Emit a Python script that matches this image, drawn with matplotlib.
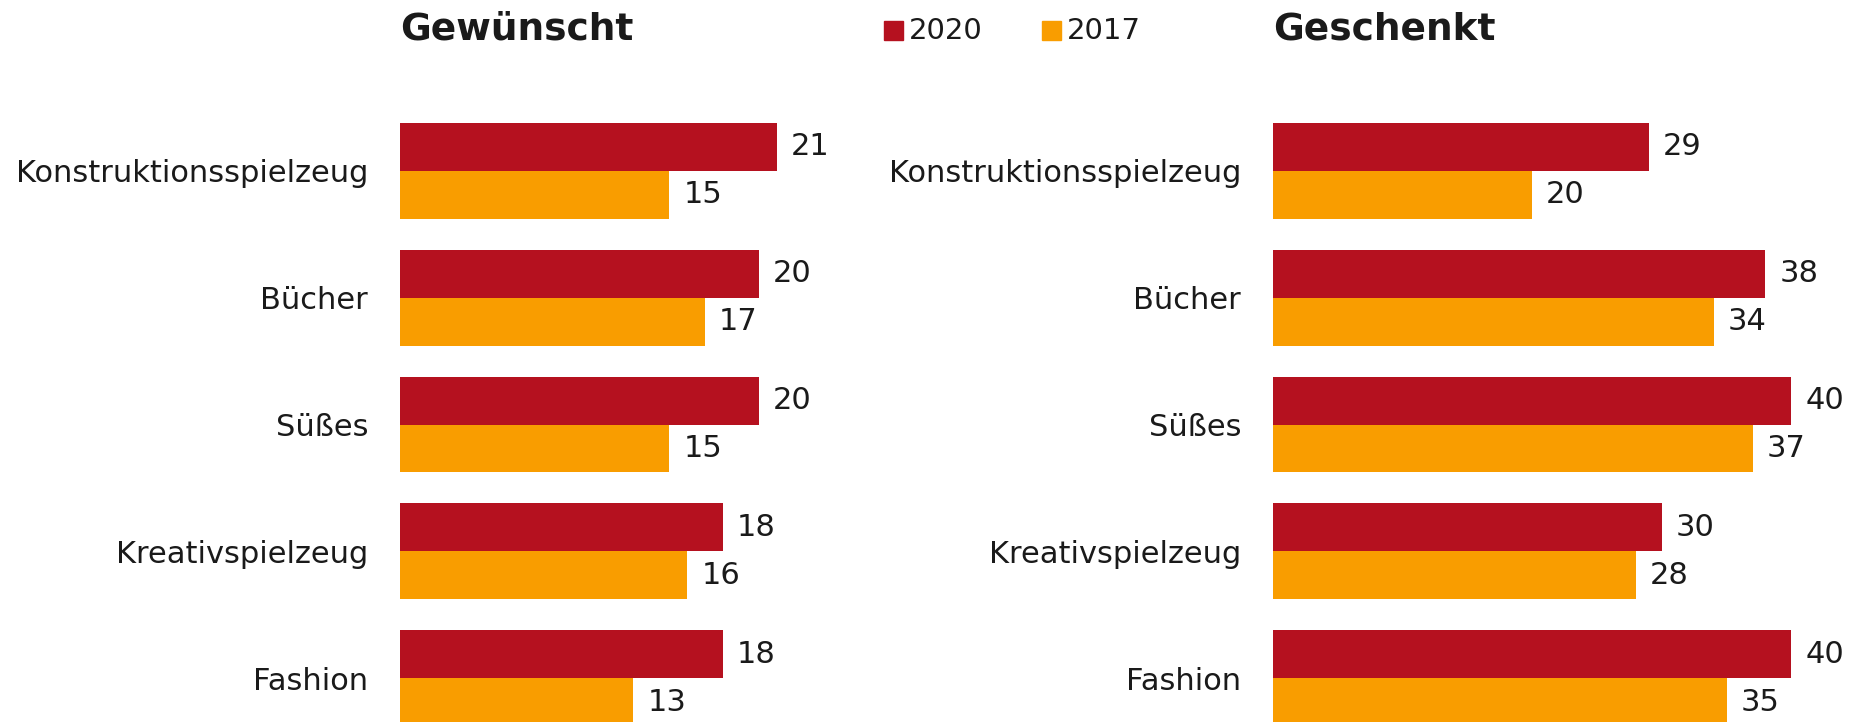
import matplotlib.pyplot as plt
from matplotlib.patches import Rectangle

# data
categories = ['Konstruktionsspielzeug', 'Bücher', 'Süßes', 'Kreativspielzeug', 'Fashion']
wished_2020 = [21, 20, 20, 18, 18]
wished_2017 = [15, 17, 15, 16, 13]
gifted_2020 = [29, 38, 40, 30, 40]
gifted_2017 = [20, 34, 37, 28, 35]
years = ['2020', '2017']

RED = '#B5111F'
ORANGE = '#F99D00'
TXT = '#1a1a1a'
W, H = 1854, 722

fig = plt.figure(figsize=(W / 100, H / 100), dpi=100)
plt.rcParams['font.family'] = 'DejaVu Sans'

bar_h = 0.378
# last group is cut by the bottom edge like in the original
ylim = (4.346, -1.348)


def panel(left_px, px_per_unit, right_px, title, v2020, v2017):
    ax = fig.add_axes([left_px / W, 0, (right_px - left_px) / W, 1])
    ax.set_xlim(0, (right_px - left_px) / px_per_unit)
    ax.set_ylim(*ylim)
    pos = list(range(len(categories)))
    ax.barh([p - bar_h / 2 for p in pos], v2020, height=bar_h, color=RED)
    ax.barh([p + bar_h / 2 for p in pos], v2017, height=bar_h, color=ORANGE)
    gap = 14 / px_per_unit
    for p, a, b in zip(pos, v2020, v2017):
        ax.text(a + gap, p - bar_h / 2, str(a), va='center', ha='left',
                fontsize=22, color=TXT)
        ax.text(b + gap, p + bar_h / 2, str(b), va='center', ha='left',
                fontsize=22, color=TXT)
    ax.set_yticks(pos)
    ax.set_yticklabels(categories, fontsize=22, color=TXT)
    ax.tick_params(axis='y', length=0, pad=23)
    ax.set_xticks([])
    for s in ax.spines.values():
        s.set_visible(False)
    fig.text(left_px / W, 1 - 30 / H, title, fontsize=27, fontweight='bold',
             va='center', ha='left', color=TXT)
    return ax


panel(400, 17.95, 1000, 'Gewünscht', wished_2020, wished_2017)
panel(1273, 12.96, 1854, 'Geschenkt', gifted_2020, gifted_2017)

# legend at top middle
for x0, lab, col in [(884, years[0], RED), (1042, years[1], ORANGE)]:
    fig.patches.append(Rectangle((x0 / W, 1 - 40 / H), 19 / W, 19 / H,
                                 transform=fig.transFigure, color=col))
    fig.text((x0 + 25) / W, 1 - 31 / H, lab, fontsize=21, va='center', ha='left',
             color=TXT)

fig.savefig('out.png', dpi=100)
